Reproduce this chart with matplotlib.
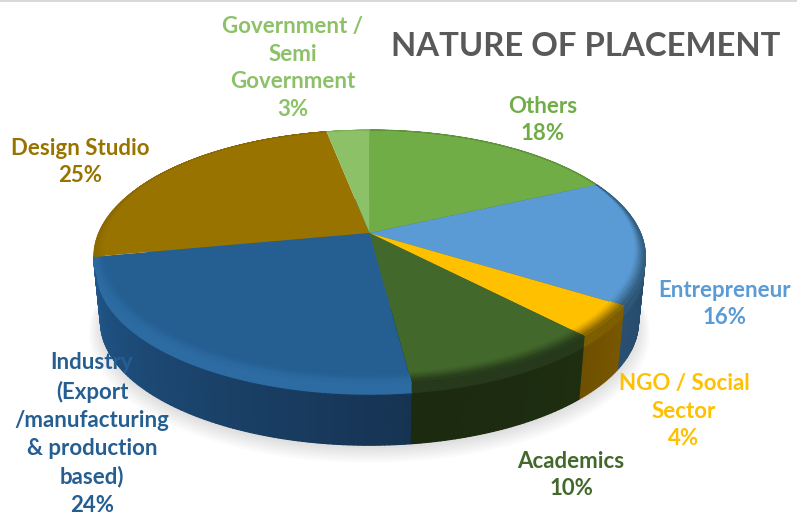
import numpy as np
import matplotlib
matplotlib.use('Agg')
import matplotlib.pyplot as plt
from matplotlib.collections import PolyCollection
from matplotlib.colors import to_rgb
from matplotlib.patches import Circle
from matplotlib.transforms import Transform

plt.rcParams['font.family'] = ['Lato', 'DejaVu Sans']

# data, clockwise from 12 o'clock
categories = ['Others', 'Entrepreneur', 'NGO / Social\nSector', 'Academics',
              'Industry\n(Export\n/manufacturing\n& production\nbased)',
              'Design Studio', 'Government /\nSemi\nGovernment']
shares = [18, 16, 4, 10, 24, 25, 3]

colors = ['#70ad47', '#5b9bd5', '#ffc000', '#43682b', '#255e91', '#997300', '#8cc168']
side_left = ['#4a7530', '#2a4f70', '#6e5000', '#1c2a10', '#205689', '#205689', '#205689']
side_right = ['#4a7530', '#1f3f5e', '#7a5800', '#1e2e10', '#163352', '#205689', '#205689']
rim_cols = ['#5c8f3a', '#2f5878', '#7d5e00', '#26391a', '#2c6ca3', '#8a6800', '#7cb058']
label_pos = [(543, 120), (725, 304), (684, 411), (571, 475), (92, 434), (80, 162), (293, 68)]

CX, CY, A, B, K = 369.5, 233, 122.1, 271.0, 0.1857


def project(u, v, scale=1.0, dy=0.0):
    # unit circle -> pixels, with a little perspective
    w = 1 + K * v
    return CX + scale * B * u / w, CY + dy - scale * A * v / w


class Persp(Transform):
    input_dims = 2
    output_dims = 2

    def __init__(self, scale=1.0, dy=0.0):
        super().__init__()
        self.scale = scale
        self.dy = dy

    def transform_non_affine(self, xy):
        xy = np.asarray(xy)
        x, y = project(xy[:, 0], xy[:, 1], self.scale, self.dy)
        return np.column_stack([x, y])


def mix(c1, c2, t):
    c1, c2 = np.array(to_rgb(c1)), np.array(to_rgb(c2))
    return tuple(c1 + (c2 - c1) * t)


LOW_S, LOW_DY = 0.975, 66.0

fig = plt.figure(figsize=(7.97, 5.18), dpi=100)
ax = fig.add_axes([0, 0, 1, 1])

# soft shadow under the pie
for i in range(8):
    ax.add_patch(Circle((0, 0), 1.0 + 0.006 * i, fc='#000000', ec='none', alpha=0.016, zorder=1,
                        transform=Persp(LOW_S, LOW_DY + 3 + i) + ax.transData))

# bottom disc
low, _ = ax.pie(shares, colors=side_left, startangle=90, counterclock=False)
for w in low:
    w.set_transform(Persp(LOW_S, LOW_DY) + ax.transData)
    w.set_zorder(2)
    w.set_linewidth(0)

# side wall and bevel, slice by slice
edges = np.cumsum([0] + shares) / sum(shares) * 2 * np.pi
quads, quad_cols, bevel, bevel_cols = [], [], [], []
for i in range(len(shares)):
    th = np.linspace(edges[i], edges[i + 1], max(4, int(shares[i] * 4)))
    for j in range(len(th) - 1):
        t1, t2 = th[j], th[j + 1]
        frac = (j + 0.5) / (len(th) - 1)
        u1, v1, u2, v2 = np.sin(t1), np.cos(t1), np.sin(t2), np.cos(t2)
        base = mix(side_right[i], side_left[i], frac)
        # wall, top to bottom (the back of the pie never shows)
        ds = np.linspace(0, 1, 6)
        for a, b in zip(ds[:-1], ds[1:]):
            if categories[i] in ('Design Studio', 'Government /\nSemi\nGovernment'):
                break
            sa, sb = 1 + (LOW_S - 1) * a, 1 + (LOW_S - 1) * b
            da, db = LOW_DY * a, LOW_DY * b
            quads.append([project(u1, v1, sa, da), project(u2, v2, sa, da),
                          project(u2, v2, sb, db), project(u1, v1, sb, db)])
            quad_cols.append(mix(rim_cols[i], base, min(1, a * 5)))
        # bevel on the top face
        vm = (v1 + v2) / 2
        width = 0.05 * np.clip(0.55 - vm, 0.05, 1)
        rs = 1 - width * np.linspace(1, 0, 6)
        for k in range(5):
            quads_r = [project(u1 * rs[k], v1 * rs[k]), project(u2 * rs[k], v2 * rs[k]),
                       project(u2 * rs[k + 1], v2 * rs[k + 1]), project(u1 * rs[k + 1], v1 * rs[k + 1])]
            bevel.append(quads_r)
            bevel_cols.append(mix(colors[i], rim_cols[i], (k + 0.5) / 5))
ax.add_collection(PolyCollection(quads, facecolors=quad_cols, edgecolors=quad_cols,
                                 linewidths=0.9, zorder=3))

# top face
top, _ = ax.pie(shares, colors=colors, startangle=90, counterclock=False)
for w in top:
    w.set_transform(Persp() + ax.transData)
    w.set_zorder(4)
    w.set_linewidth(0)
ax.add_collection(PolyCollection(bevel, facecolors=bevel_cols, edgecolors=bevel_cols,
                                 linewidths=0.5, zorder=5))

# labels
for name, share, col, pos in zip(categories, shares, colors, label_pos):
    ax.text(pos[0], pos[1], f'{name}\n{share}%', color=col, fontsize=16, fontweight='bold',
            ha='center', va='center', linespacing=1.41, zorder=6)

ax.text(586, 46, 'NATURE OF PLACEMENT', color='#595959', fontsize=23.7, fontweight='bold',
        ha='center', va='center', zorder=6)

ax.set_aspect('auto')
ax.set_xlim(0, 797)
ax.set_ylim(518, 0)
ax.axis('off')
ax.axhspan(0, 2, color='#d9d9d9', lw=0)

fig.savefig('out.png', dpi=100)
